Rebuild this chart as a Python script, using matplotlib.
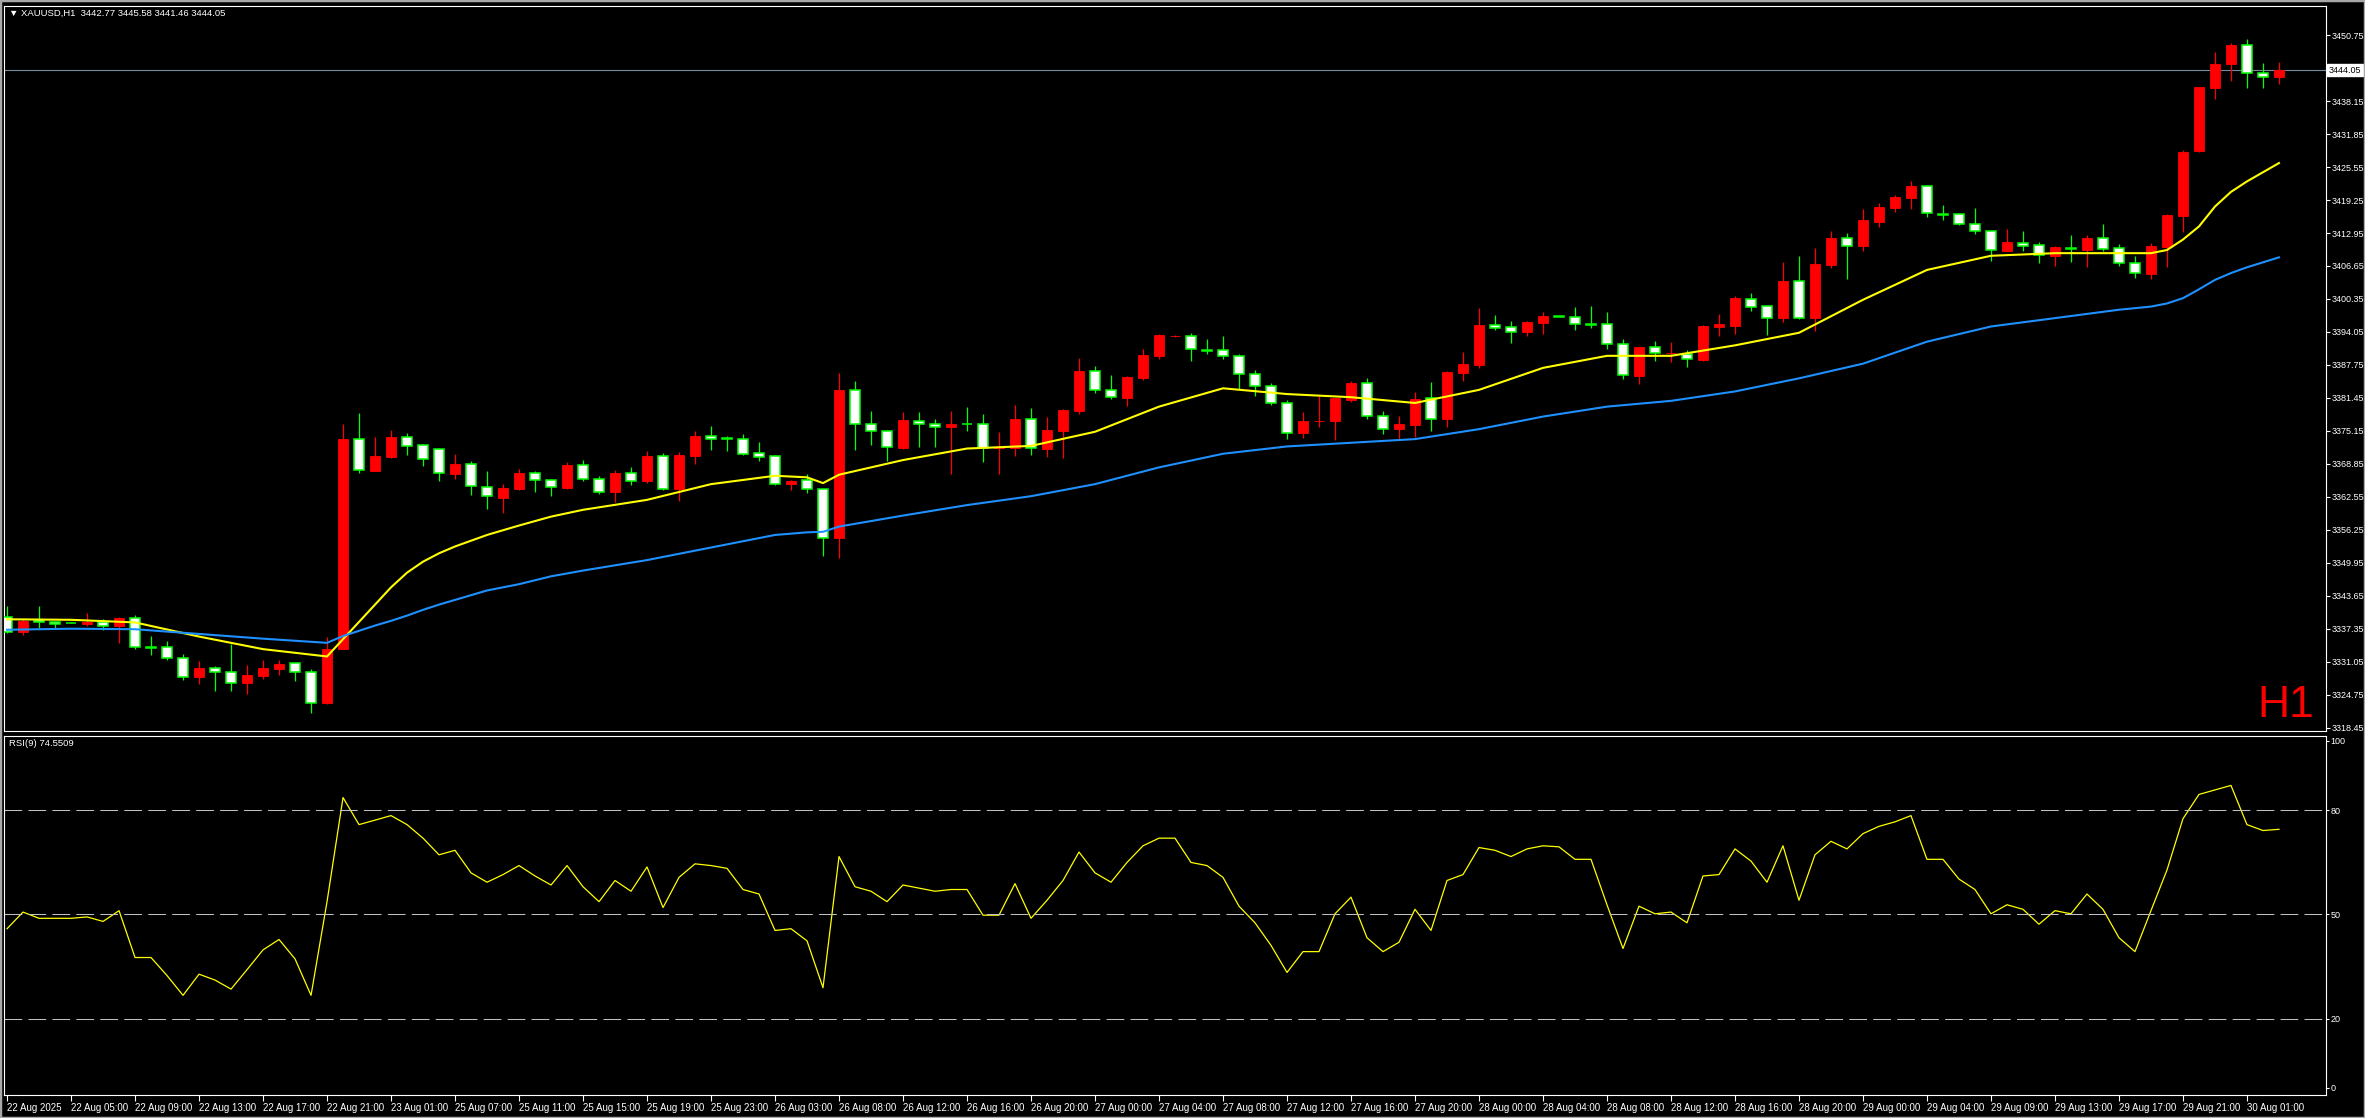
import matplotlib
matplotlib.use('Agg')
import matplotlib.pyplot as plt
from matplotlib.patches import Rectangle
from matplotlib.transforms import blended_transform_factory

FONT = ['Liberation Sans Narrow', 'Liberation Sans', 'DejaVu Sans']
plt.rcParams['font.family'] = FONT
FS = 6.5

# XAUUSD H1 bars, one entry per bar (oldest first)
opens = [
    3339.58, 3336.84, 3339.07, 3338.62, 3338.50, 3338.31, 3338.62, 3337.99, 3339.39, 3333.90,
    3333.85, 3331.75, 3328.12, 3329.84, 3329.21, 3327.11, 3328.44, 3329.72, 3330.80, 3329.08,
    3323.16, 3333.53, 3373.56, 3367.58, 3370.19, 3373.94, 3372.42, 3371.65, 3367.01, 3368.79,
    3364.53, 3362.43, 3364.08, 3367.07, 3365.73, 3364.34, 3368.60, 3365.93, 3363.56, 3367.07,
    3365.66, 3370.31, 3364.14, 3370.44, 3374.13, 3373.70, 3373.56, 3370.88, 3370.31, 3365.09,
    3365.73, 3364.01, 3354.78, 3382.91, 3376.42, 3375.08, 3371.97, 3377.12, 3376.42, 3375.97,
    3376.45, 3376.42, 3371.84, 3371.84, 3377.37, 3371.77, 3375.15, 3378.96, 3386.54, 3382.91,
    3381.51, 3385.33, 3389.53, 3393.20, 3393.22, 3390.60, 3390.54, 3389.40, 3385.96, 3383.80,
    3380.43, 3374.70, 3377.00, 3377.05, 3381.13, 3384.24, 3378.07, 3375.46, 3376.29, 3381.38,
    3377.44, 3386.28, 3387.74, 3395.32, 3394.94, 3394.11, 3395.83, 3396.98, 3396.97, 3395.55,
    3395.51, 3391.69, 3385.71, 3391.12, 3389.95, 3389.91, 3388.70, 3395.06, 3395.25, 3400.41,
    3398.94, 3396.78, 3403.78, 3396.78, 3406.84, 3411.93, 3410.53, 3415.11, 3417.78, 3419.69,
    3421.86, 3416.55, 3416.51, 3414.60, 3413.27, 3409.57, 3410.97, 3410.59, 3408.62, 3410.05,
    3409.76, 3411.93, 3410.02, 3407.16, 3405.18, 3410.34, 3416.26, 3428.66, 3440.69, 3445.21,
    3448.84, 3443.43, 3442.77,
]
highs = [
    3341.74, 3339.30, 3341.74, 3338.75, 3338.60, 3340.34, 3339.20, 3339.58, 3340.02, 3336.02,
    3335.06, 3332.58, 3331.24, 3330.29, 3334.42, 3330.48, 3331.43, 3331.43, 3330.93, 3329.72,
    3335.76, 3376.49, 3378.65, 3374.07, 3375.34, 3374.71, 3372.67, 3371.97, 3370.76, 3369.43,
    3367.52, 3364.97, 3367.90, 3367.52, 3365.90, 3369.30, 3369.62, 3366.56, 3367.70, 3368.21,
    3371.33, 3370.88, 3371.14, 3375.15, 3376.10, 3374.19, 3374.57, 3373.05, 3370.56, 3365.80,
    3366.87, 3364.10, 3386.28, 3384.69, 3378.96, 3375.34, 3378.84, 3378.84, 3377.44, 3378.96,
    3379.73, 3378.39, 3374.95, 3380.11, 3379.54, 3377.82, 3379.35, 3389.15, 3387.56, 3385.84,
    3385.65, 3390.80, 3393.60, 3393.40, 3393.79, 3392.64, 3393.28, 3389.84, 3386.79, 3384.24,
    3381.06, 3378.77, 3381.83, 3381.51, 3384.69, 3385.33, 3378.96, 3378.01, 3382.53, 3384.44,
    3386.60, 3390.23, 3398.63, 3397.29, 3396.14, 3396.14, 3397.86, 3397.00, 3398.82, 3399.01,
    3397.86, 3392.64, 3391.24, 3392.33, 3392.14, 3390.61, 3395.38, 3397.54, 3400.92, 3401.49,
    3399.07, 3407.35, 3408.56, 3410.08, 3413.33, 3412.95, 3417.53, 3418.74, 3420.20, 3422.87,
    3422.17, 3418.29, 3416.64, 3417.72, 3413.39, 3413.71, 3413.33, 3411.17, 3410.53, 3412.56,
    3412.50, 3414.73, 3410.78, 3408.49, 3410.97, 3416.57, 3428.79, 3440.88, 3447.57, 3449.16,
    3449.98, 3445.46, 3445.58,
]
lows = [
    3336.50, 3336.20, 3337.61, 3337.61, 3338.40, 3337.99, 3337.16, 3334.74, 3333.47, 3332.39,
    3331.43, 3327.62, 3326.85, 3325.58, 3325.58, 3324.94, 3327.80, 3328.57, 3327.43, 3321.25,
    3323.03, 3333.50, 3367.07, 3367.50, 3370.06, 3370.64, 3368.53, 3365.67, 3366.05, 3363.00,
    3360.33, 3359.56, 3363.90, 3363.57, 3362.81, 3364.10, 3365.67, 3363.12, 3361.66, 3364.84,
    3365.28, 3363.88, 3361.85, 3368.85, 3371.52, 3371.33, 3370.56, 3369.42, 3364.84, 3363.88,
    3363.25, 3351.28, 3350.96, 3371.52, 3372.47, 3369.42, 3371.65, 3372.16, 3372.16, 3367.00,
    3375.15, 3369.29, 3367.00, 3370.37, 3370.56, 3370.18, 3370.06, 3378.33, 3382.34, 3381.32,
    3379.98, 3384.95, 3388.96, 3393.00, 3388.57, 3389.78, 3388.83, 3383.10, 3381.89, 3380.11,
    3373.68, 3373.87, 3375.97, 3373.43, 3380.75, 3377.37, 3374.51, 3373.62, 3374.06, 3375.21,
    3375.84, 3384.75, 3387.24, 3394.43, 3392.01, 3393.28, 3393.66, 3396.85, 3394.43, 3394.87,
    3390.80, 3385.14, 3384.18, 3388.57, 3388.38, 3387.43, 3388.57, 3393.28, 3393.66, 3398.12,
    3393.47, 3396.02, 3396.53, 3394.30, 3406.20, 3404.23, 3409.57, 3414.16, 3417.02, 3417.53,
    3416.07, 3415.49, 3414.47, 3412.82, 3407.66, 3409.50, 3409.57, 3407.28, 3406.71, 3407.47,
    3406.39, 3409.57, 3406.65, 3404.42, 3404.10, 3406.52, 3413.20, 3428.47, 3438.46, 3442.03,
    3440.69, 3440.69, 3441.46,
]
closes = [
    3336.72, 3338.94, 3338.62, 3338.31, 3338.45, 3338.62, 3337.99, 3339.45, 3333.85, 3333.80,
    3331.75, 3328.12, 3329.84, 3329.21, 3327.11, 3328.57, 3329.84, 3330.67, 3329.08, 3323.16,
    3333.53, 3373.63, 3367.64, 3370.38, 3374.01, 3372.35, 3369.74, 3367.07, 3368.85, 3364.59,
    3362.68, 3364.27, 3367.07, 3365.73, 3364.40, 3368.66, 3365.93, 3363.56, 3367.07, 3365.66,
    3370.37, 3364.14, 3370.56, 3374.19, 3373.68, 3373.60, 3370.82, 3370.25, 3365.09, 3365.60,
    3364.01, 3354.66, 3382.97, 3376.42, 3375.08, 3372.03, 3377.25, 3376.42, 3375.85, 3376.48,
    3376.40, 3371.97, 3372.10, 3377.44, 3371.84, 3375.34, 3379.16, 3386.60, 3382.91, 3381.57,
    3385.46, 3389.66, 3393.47, 3393.25, 3390.74, 3390.50, 3389.40, 3385.96, 3383.80, 3380.43,
    3374.70, 3377.05, 3377.10, 3381.38, 3384.37, 3378.07, 3375.46, 3376.48, 3381.19, 3377.50,
    3386.34, 3387.94, 3395.38, 3394.87, 3394.11, 3395.95, 3397.10, 3396.90, 3395.51, 3395.45,
    3391.69, 3385.77, 3391.12, 3389.97, 3390.00, 3388.83, 3395.19, 3395.57, 3400.54, 3398.88,
    3396.78, 3403.78, 3396.78, 3407.03, 3411.99, 3410.53, 3415.43, 3417.91, 3419.82, 3421.92,
    3416.70, 3416.45, 3414.60, 3413.27, 3409.64, 3411.23, 3410.53, 3408.68, 3410.27, 3409.95,
    3411.99, 3409.96, 3407.16, 3405.25, 3410.46, 3416.38, 3428.41, 3440.82, 3445.21, 3448.84,
    3443.43, 3442.77, 3444.05,
]

# moving averages read at selected bars
ma_bars = [0, 4, 8, 12, 16, 20, 21, 22, 23, 24, 25, 26, 27, 28, 30, 32, 34, 36, 40, 44,
           48, 50, 51, 52, 56, 60, 64, 68, 72, 76, 80, 84, 88, 92, 96, 100, 104, 108, 112,
           116, 120, 124, 128, 132, 134, 135, 136, 137, 138, 139, 140, 142]
ma_fast = [3339.2, 3339.1, 3338.6, 3335.9, 3333.5, 3332.1, 3335.4, 3338.7, 3342.0, 3345.3,
           3348.1, 3350.2, 3351.8, 3353.1, 3355.3, 3357.1, 3358.8, 3360.1, 3362.0, 3365.0,
           3366.6, 3366.3, 3365.2, 3366.8, 3369.6, 3371.8, 3372.3, 3375.0, 3379.8, 3383.3,
           3382.2, 3381.6, 3380.5, 3383.0, 3387.2, 3389.5, 3389.5, 3391.5, 3393.9, 3400.2,
           3405.9, 3408.6, 3409.1, 3409.1, 3409.1, 3409.7, 3411.7, 3414.2, 3418.0, 3420.8,
           3422.8, 3426.3]
ma_slow = [3337.2, 3337.4, 3337.3, 3336.4, 3335.5, 3334.7, 3336.0, 3337.0, 3338.0, 3338.9,
           3339.9, 3341.0, 3342.0, 3342.9, 3344.7, 3345.9, 3347.4, 3348.5, 3350.5, 3352.9,
           3355.3, 3355.8, 3355.9, 3356.9, 3359.0, 3361.0, 3362.7, 3365.0, 3368.2, 3370.8,
           3372.2, 3372.9, 3373.6, 3375.5, 3377.9, 3379.8, 3380.9, 3382.7, 3385.2, 3388.0,
           3392.2, 3395.1, 3396.7, 3398.3, 3398.9, 3399.5, 3400.5, 3402.2, 3404.0, 3405.3,
           3406.4, 3408.3]

rsi = [45.9, 50.7, 48.9, 48.9, 48.9, 49.3, 48.0, 51.1, 37.6, 37.6,
       32.4, 26.7, 32.8, 31.1, 28.5, 34.1, 39.8, 42.8, 37.2, 26.7,
       53.7, 83.7, 75.9, 77.2, 78.5, 75.9, 72.0, 67.2, 68.5, 62.0,
       59.3, 61.5, 64.1, 61.1, 58.5, 64.1, 58.0, 53.7, 59.8, 56.7,
       63.7, 52.0, 60.7, 64.6, 64.1, 63.3, 57.2, 55.9, 45.4, 45.9,
       42.4, 28.9, 66.7, 58.0, 56.7, 53.7, 58.5, 57.6, 56.7, 57.2,
       57.2, 49.8, 49.8, 58.9, 48.9, 54.1, 59.8, 68.0, 62.0, 59.3,
       65.0, 69.8, 72.0, 72.0, 65.0, 64.1, 60.7, 52.4, 47.6, 41.1,
       33.3, 39.3, 39.3, 50.2, 55.0, 43.3, 39.3, 42.0, 51.5, 45.4,
       59.8, 61.5, 69.3, 68.5, 66.7, 68.9, 69.8, 69.5, 65.9, 65.9,
       52.8, 40.2, 52.4, 50.2, 50.7, 47.6, 61.1, 61.5, 68.9, 65.4,
       59.3, 69.8, 54.1, 67.2, 71.1, 68.9, 73.3, 75.4, 76.7, 78.5,
       65.9, 65.9, 60.2, 57.2, 50.2, 52.8, 51.5, 47.2, 51.1, 50.2,
       55.9, 51.5, 43.3, 39.3, 51.1, 62.8, 77.6, 84.6, 85.9, 87.2,
       75.9, 74.2, 74.55]

time_labels = [
    '22 Aug 2025', '22 Aug 05:00', '22 Aug 09:00', '22 Aug 13:00', '22 Aug 17:00',
    '22 Aug 21:00', '23 Aug 01:00', '25 Aug 07:00', '25 Aug 11:00', '25 Aug 15:00',
    '25 Aug 19:00', '25 Aug 23:00', '26 Aug 03:00', '26 Aug 08:00', '26 Aug 12:00',
    '26 Aug 16:00', '26 Aug 20:00', '27 Aug 00:00', '27 Aug 04:00', '27 Aug 08:00',
    '27 Aug 12:00', '27 Aug 16:00', '27 Aug 20:00', '28 Aug 00:00', '28 Aug 04:00',
    '28 Aug 08:00', '28 Aug 12:00', '28 Aug 16:00', '28 Aug 20:00', '29 Aug 00:00',
    '29 Aug 04:00', '29 Aug 09:00', '29 Aug 13:00', '29 Aug 17:00', '29 Aug 21:00',
    '30 Aug 01:00',
]
price_ticks = [3318.45, 3324.75, 3331.05, 3337.35, 3343.65, 3349.95, 3356.25, 3362.55,
               3368.85, 3375.15, 3381.45, 3387.75, 3394.05, 3400.35, 3406.65, 3412.95,
               3419.25, 3425.55, 3431.85, 3438.15, 3450.75]
rsi_ticks = [0, 20, 50, 80, 100]
rsi_levels = [20, 50, 80]
last_price = 3444.05

W, H = 2365, 1118
fig = plt.figure(figsize=(W / 100, H / 100), dpi=100, facecolor='black')
ax = fig.add_axes([4 / W, 1 - 731 / H, 2322 / W, 725 / H], facecolor='black')
ax_rsi = fig.add_axes([4 / W, 1 - 1095 / H, 2322 / W, 359 / H], facecolor='black', sharex=ax)

bars = range(len(closes))
for i in bars:
    o, h, l, c = opens[i], highs[i], lows[i], closes[i]
    up = c > o
    wick = '#ff0000' if up else '#00ff00'
    ax.vlines(i, l, h, color=wick, lw=0.9, zorder=2)
    body = max(abs(c - o), 0.12)
    if up:
        ax.bar(i, body, 0.66, bottom=o, color='#ff0000', edgecolor='#ff0000', lw=0.6, zorder=3)
    else:
        ax.bar(i, body, 0.66, bottom=min(o, c), color='white', edgecolor='#00ff00', lw=1.1, zorder=3)

ax.plot(ma_bars, ma_fast, color='#ffff00', lw=1.5, zorder=4)
ax.plot(ma_bars, ma_slow, color='#1e90ff', lw=1.5, zorder=4)
ax.axhline(last_price, color='#778899', lw=0.8, zorder=1)

ax.set_xlim(-0.19, 144.94)
ax.set_ylim(3317.87, 3456.29)
ax.yaxis.tick_right()
ax.set_yticks(price_ticks)
ax.set_yticklabels(['%.2f' % p for p in price_ticks])
ax.tick_params(axis='y', colors='white', length=3, width=0.8, pad=1, labelsize=FS)
ax.tick_params(axis='x', bottom=False, labelbottom=False)
for s in ax.spines.values():
    s.set_color('white')
    s.set_linewidth(0.8)

trans = blended_transform_factory(ax.transAxes, ax.transData)
ax.text(1.0012, last_price, '%.2f' % last_price, transform=trans, ha='left', va='center',
        fontsize=FS, color='black',
        bbox=dict(facecolor='white', edgecolor='white', boxstyle='square,pad=0.15'))

# RSI panel
ax_rsi.plot(list(bars), rsi, color='#ffff00', lw=0.9)
for lvl in rsi_levels:
    ax_rsi.axhline(lvl, color='#c0c0c0', lw=0.75, dashes=(17, 6))
ax_rsi.set_ylim(-2.02, 101.44)
ax_rsi.yaxis.tick_right()
ax_rsi.set_yticks(rsi_ticks)
ax_rsi.set_yticklabels([str(t) for t in rsi_ticks])
ax_rsi.tick_params(axis='y', colors='white', length=2, width=0.8, pad=1, labelsize=FS)
ax_rsi.set_xticks(range(0, 4 * len(time_labels), 4))
ax_rsi.set_xticklabels(time_labels, ha='left')
ax_rsi.tick_params(axis='x', colors='white', length=4, width=0.8, pad=2, labelsize=7)
for s in ax_rsi.spines.values():
    s.set_color('white')
    s.set_linewidth(0.8)

fig.text(9 / W, 1 - 13 / H, '\u25bc XAUUSD,H1  3442.77 3445.58 3441.46 3444.05',
         color='white', fontsize=6.8, va='center', ha='left')
fig.text(9 / W, 1 - 744 / H, 'RSI(9) 74.5509', color='white', fontsize=6.8, va='center', ha='left')
fig.text(2314 / W, 1 - 717 / H, 'H1', color='#ff0000', fontsize=32, ha='right', va='baseline',
         family=['Liberation Sans', 'DejaVu Sans'])

fig.patches.append(Rectangle((0, 0), 1, 1, transform=fig.transFigure, fill=False,
                             edgecolor='#a8a8a8', lw=2.5))

fig.savefig('out.png', dpi=100, facecolor='black')
